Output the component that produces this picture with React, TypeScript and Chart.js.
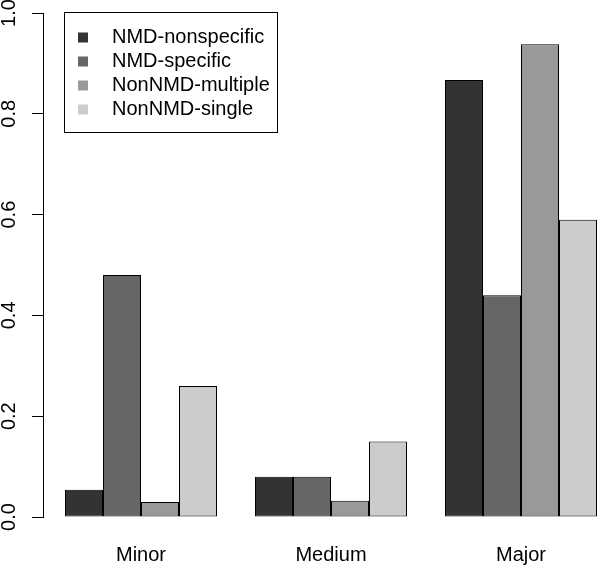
import React, { useEffect, useRef } from 'react';
import { Chart, registerables } from 'chart.js';

Chart.register(...registerables);

const categories = ['Minor', 'Medium', 'Major'];
const seriesLabels = ['NMD-nonspecific', 'NMD-specific', 'NonNMD-multiple', 'NonNMD-single'];
const nmdNonspecific = [0.054, 0.08, 0.867];
const nmdSpecific = [0.48, 0.08, 0.44];
const nonNmdMultiple = [0.03, 0.032, 0.938];
const nonNmdSingle = [0.26, 0.15, 0.59];
const seriesColors = ['#333333', '#666666', '#999999', '#cccccc'];
const yTickValues = [0, 0.2, 0.4, 0.6, 0.8, 1.0];

const FONT = '"Liberation Sans", Arial, Helvetica, sans-serif';

// x scale: chart area starts at 43px; group spacing 190px; first group centred at 141px
const X_MIN = -(141 - 43) / 190;
const X_MAX = X_MIN + (600 - 43) / 190;

const boxLegend = {
  id: 'boxLegend',
  afterDraw(chart: any) {
    const ctx = chart.ctx;
    ctx.save();
    ctx.strokeStyle = '#000';
    ctx.lineWidth = 1;
    ctx.strokeRect(64.5, 12.5, 213, 120);
    ctx.font = `20px ${FONT}`;
    ctx.textBaseline = 'middle';
    ctx.textAlign = 'left';
    chart.data.datasets.forEach((ds: any, i: number) => {
      const cy = 37.5 + i * 24;
      ctx.fillStyle = ds.backgroundColor;
      ctx.fillRect(78, cy - 5, 10, 10);
      ctx.fillStyle = '#000';
      ctx.fillText(ds.label, 112, cy);
    });
    ctx.restore();
  },
};

export default function App() {
  const ref = useRef<HTMLCanvasElement | null>(null);

  useEffect(() => {
    if (!ref.current) return;
    const seriesValues = [nmdNonspecific, nmdSpecific, nonNmdMultiple, nonNmdSingle];
    const chart = new Chart(ref.current, {
      type: 'bar',
      data: {
        datasets: seriesValues.map((vals, si) => ({
          label: seriesLabels[si],
          data: vals.map((v, i) => ({ x: i, y: v })),
          backgroundColor: seriesColors[si],
          borderColor: '#000',
          borderWidth: 1,
          borderSkipped: false,
          inflateAmount: 0,
          categoryPercentage: 0.8,
          barPercentage: 1.0,
        })),
      },
      options: {
        responsive: false,
        animation: false,
        devicePixelRatio: 1,
        layout: { padding: { top: 13, left: 0, right: 0, bottom: 0 } },
        plugins: { legend: { display: false }, tooltip: { enabled: false } },
        scales: {
          x: {
            type: 'linear',
            offset: false,
            min: X_MIN,
            max: X_MAX,
            grid: { display: false },
            border: { display: false },
            afterBuildTicks: (s: any) => {
              s.ticks = categories.map((_, i) => ({ value: i }));
            },
            afterFit: (s: any) => {
              s.height = 48;
              s.paddingLeft = 0;
              s.paddingRight = 0;
            },
            ticks: {
              autoSkip: false,
              maxRotation: 0,
              minRotation: 0,
              padding: 18,
              color: '#000',
              font: { size: 20, family: FONT },
              callback: (v: any) => categories[Math.round(v)] ?? '',
            },
          },
          y: {
            type: 'linear',
            min: 0,
            max: 1,
            position: 'left',
            grid: {
              display: true,
              drawOnChartArea: false,
              drawTicks: true,
              tickLength: 11,
              tickColor: '#000',
              color: '#000',
              lineWidth: 1,
            },
            border: { display: true, color: '#000', width: 1 },
            afterBuildTicks: (s: any) => {
              s.ticks = yTickValues.map((v) => ({ value: v }));
            },
            afterFit: (s: any) => {
              s.width = 43;
              s.paddingTop = 0;
              s.paddingBottom = 0;
            },
            ticks: {
              minRotation: 90,
              maxRotation: 90,
              crossAlign: 'center',
              padding: 9,
              color: '#000',
              font: { size: 20, family: FONT },
              callback: (v: any) => Number(v).toFixed(1),
            },
          },
        },
      } as any,
      plugins: [boxLegend],
    });
    return () => chart.destroy();
  }, []);

  return (
    <canvas
      ref={ref}
      width={600}
      height={565}
      style={{ position: 'fixed', left: 0, top: 0, width: 600, height: 565 }}
    />
  );
}
